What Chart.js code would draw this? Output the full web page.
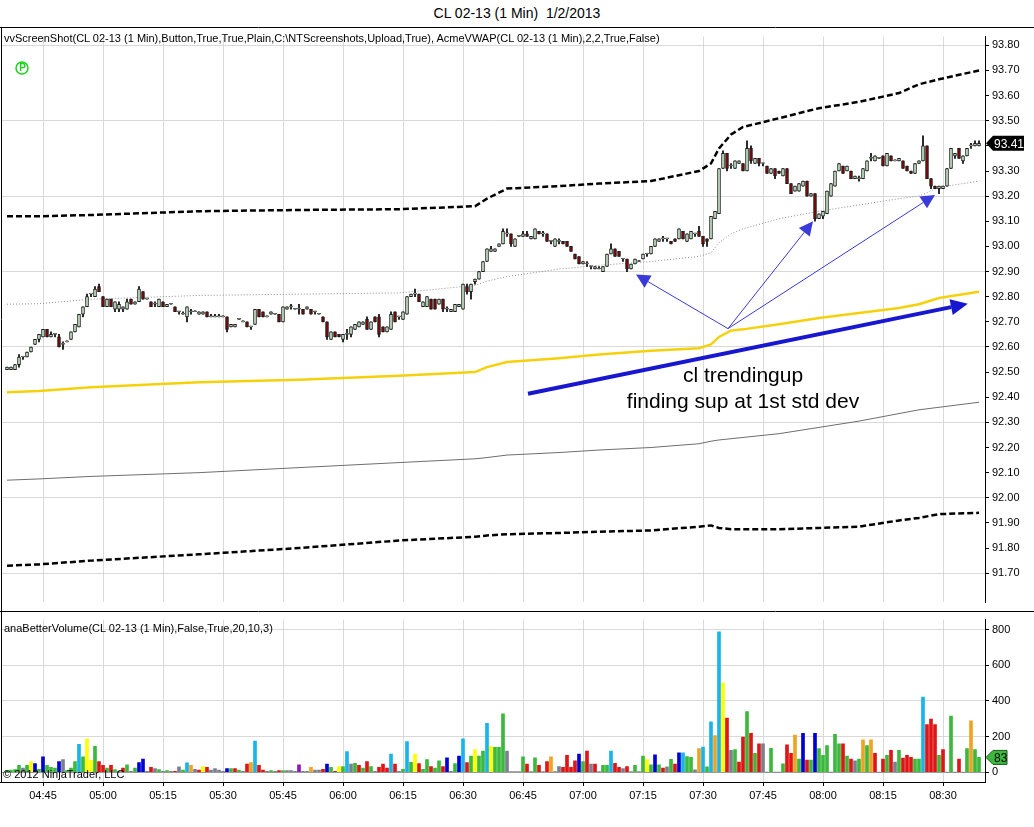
<!DOCTYPE html>
<html>
<head>
<meta charset="utf-8">
<script src="https://cdn.jsdelivr.net/npm/chart.js@4.4.0/dist/chart.umd.min.js"></script>
<style>
  body { margin: 0; background: #fff; width: 1034px; height: 827px; overflow: hidden; position: relative;
         font-family: "Liberation Sans", Arial, sans-serif; }
  canvas { position: absolute; left: 0; }
  #pc { top: 27px; }
  #vc { top: 610px; }
  .lbl { position: absolute; font-size: 11px; color: #000; white-space: pre; z-index: 5; }
  #title { top: 5px; left: 0; width: 1034px; text-align: center; font-size: 14px; }
</style>
</head>
<body>
<div class="lbl" id="title">CL 02-13 (1 Min)  1/2/2013</div>
<canvas id="pc" width="1034" height="585"></canvas>
<canvas id="vc" width="1034" height="217"></canvas>
<div class="lbl" style="left:4px;top:32px">vvScreenShot(CL 02-13 (1 Min),Button,True,True,Plain,C:\NTScreenshots,Upload,True), AcmeVWAP(CL 02-13 (1 Min),2,2,True,False)</div>
<div class="lbl" style="left:4px;top:622px">anaBetterVolume(CL 02-13 (1 Min),False,True,20,10,3)</div>
<div class="lbl" style="left:3px;top:768px">© 2012 NinjaTrader, LLC</div>
<script>
// ---- data (bar index 0 = 04:36, one bar per minute) ----
const firstBar = '04:36';
const timeTicks = ['04:45','05:00','05:15','05:30','05:45','06:00','06:15','06:30','06:45','07:00','07:15','07:30','07:45','08:00','08:15','08:30'];
const priceTicks = [91.7,91.8,91.9,92.0,92.1,92.2,92.3,92.4,92.5,92.6,92.7,92.8,92.9,93.0,93.1,93.2,93.3,93.4,93.5,93.6,93.7,93.8];
const volTicks = [0, 200, 400, 600, 800];

const opens = [
  92.51,92.51,92.51,92.53,92.56,92.56,92.58,92.61,92.63,92.64,
  92.67,92.64,92.65,92.64,92.61,92.62,92.63,92.66,92.68,92.73,
  92.76,92.81,92.80,92.84,92.80,92.76,92.79,92.75,92.75,92.75,
  92.75,92.79,92.77,92.78,92.82,92.79,92.78,92.77,92.76,92.78,
  92.76,92.77,92.76,92.74,92.73,92.72,92.74,92.74,92.73,92.73,
  92.74,92.72,92.72,92.72,92.72,92.72,92.68,92.68,92.71,92.70,
  92.70,92.68,92.69,92.75,92.74,92.72,92.73,92.73,92.73,92.70,
  92.75,92.76,92.75,92.75,92.75,92.75,92.75,92.74,92.73,92.72,
  92.70,92.63,92.66,92.65,92.63,92.65,92.65,92.67,92.68,92.69,
  92.71,92.67,92.72,92.72,92.68,92.66,92.67,92.74,92.72,92.71,
  92.73,92.80,92.81,92.81,92.76,92.76,92.79,92.79,92.77,92.79,
  92.75,92.74,92.74,92.76,92.75,92.84,92.82,92.86,92.87,92.90,
  92.94,92.98,92.98,93.00,93.01,93.05,93.05,93.00,93.04,93.04,
  93.05,93.03,93.03,93.06,93.05,93.05,93.02,93.00,93.02,93.02,
  93.02,93.00,92.97,92.96,92.93,92.93,92.92,92.91,92.91,92.90,
  92.92,92.97,92.99,92.98,92.95,92.95,92.91,92.93,92.94,92.95,
  92.97,92.97,93.00,93.02,93.03,93.03,93.02,93.03,93.03,93.06,
  93.02,93.03,93.05,93.06,93.04,93.03,93.03,93.11,93.13,93.31,
  93.37,93.32,93.31,93.33,93.33,93.30,93.39,93.33,93.35,93.33,
  93.32,93.29,93.31,93.30,93.28,93.31,93.25,93.22,93.22,93.24,
  93.26,93.20,93.21,93.11,93.12,93.13,93.20,93.24,93.30,93.32,
  93.30,93.30,93.27,93.27,93.27,93.30,93.35,93.34,93.35,93.36,
  93.32,93.36,93.34,93.34,93.34,93.32,93.30,93.29,93.33,93.34,
  93.40,93.27,93.24,93.23,93.23,93.24,93.31,93.36,93.39,93.34,
  93.36,93.40,93.40,93.40
];
const closes = [
  92.52,92.52,92.53,92.56,92.56,92.58,92.60,92.63,92.65,92.67,
  92.64,92.65,92.65,92.60,92.61,92.62,92.66,92.69,92.73,92.76,
  92.80,92.81,92.83,92.82,92.76,92.79,92.76,92.78,92.77,92.76,
  92.78,92.77,92.78,92.83,92.79,92.79,92.76,92.77,92.79,92.76,
  92.77,92.77,92.74,92.74,92.73,92.76,92.74,92.74,92.74,92.74,
  92.72,92.72,92.72,92.72,92.72,92.67,92.69,92.69,92.71,92.70,
  92.68,92.68,92.75,92.72,92.72,92.72,92.74,92.73,92.70,92.76,
  92.76,92.76,92.75,92.75,92.73,92.76,92.73,92.74,92.73,92.70,
  92.64,92.66,92.64,92.64,92.65,92.65,92.68,92.69,92.70,92.70,
  92.67,92.70,92.70,92.65,92.66,92.68,92.73,92.70,92.72,92.74,
  92.80,92.81,92.81,92.78,92.78,92.80,92.75,92.75,92.79,92.75,
  92.75,92.75,92.77,92.77,92.85,92.82,92.85,92.87,92.90,92.94,
  92.99,92.99,92.99,93.01,93.06,93.05,93.01,93.03,93.04,93.05,
  93.04,93.04,93.07,93.05,93.05,93.02,93.02,93.03,93.02,93.01,
  93.00,92.98,92.95,92.93,92.94,92.93,92.92,92.92,92.91,92.92,
  92.97,92.99,92.96,92.96,92.95,92.91,92.93,92.95,92.94,92.97,
  92.97,93.00,93.03,93.03,93.03,93.03,93.01,93.02,93.07,93.03,
  93.05,93.06,93.05,93.04,93.01,93.02,93.12,93.14,93.31,93.37,
  93.31,93.32,93.34,93.34,93.30,93.39,93.34,93.35,93.33,93.33,
  93.29,93.31,93.28,93.29,93.31,93.25,93.21,93.24,93.25,93.26,
  93.20,93.21,93.11,93.13,93.14,93.22,93.25,93.30,93.33,93.29,
  93.32,93.27,93.28,93.27,93.31,93.34,93.35,93.36,93.35,93.32,
  93.37,93.34,93.34,93.35,93.31,93.30,93.29,93.33,93.34,93.40,
  93.27,93.24,93.23,93.24,93.24,93.31,93.39,93.37,93.35,93.36,
  93.39,93.40,93.41,93.41
];
const highs = [
  92.52,92.52,92.53,92.57,92.56,92.58,92.60,92.63,92.65,92.67,
  92.67,92.66,92.65,92.65,92.62,92.62,92.66,92.69,92.73,92.76,
  92.81,92.81,92.84,92.85,92.80,92.79,92.79,92.78,92.78,92.76,
  92.79,92.79,92.78,92.84,92.82,92.79,92.78,92.78,92.79,92.78,
  92.77,92.77,92.76,92.74,92.74,92.76,92.75,92.74,92.74,92.74,
  92.74,92.73,92.73,92.73,92.72,92.72,92.69,92.69,92.71,92.70,
  92.70,92.68,92.75,92.75,92.74,92.72,92.74,92.73,92.73,92.76,
  92.76,92.77,92.75,92.77,92.75,92.76,92.75,92.74,92.73,92.72,
  92.70,92.66,92.66,92.65,92.65,92.67,92.68,92.69,92.70,92.70,
  92.72,92.70,92.72,92.73,92.68,92.68,92.74,92.74,92.72,92.74,
  92.80,92.81,92.83,92.81,92.78,92.80,92.79,92.79,92.79,92.79,
  92.76,92.75,92.77,92.77,92.85,92.85,92.85,92.87,92.90,92.94,
  92.99,93.00,92.99,93.01,93.07,93.07,93.05,93.03,93.04,93.06,
  93.06,93.04,93.07,93.06,93.06,93.05,93.02,93.03,93.03,93.02,
  93.02,93.00,92.97,92.96,92.94,92.94,92.92,92.92,92.92,92.92,
  92.97,93.01,92.99,92.98,92.95,92.95,92.93,92.95,92.94,92.97,
  92.97,93.00,93.03,93.03,93.04,93.03,93.02,93.03,93.07,93.06,
  93.05,93.06,93.05,93.08,93.04,93.03,93.12,93.14,93.31,93.38,
  93.37,93.33,93.34,93.34,93.33,93.42,93.40,93.35,93.35,93.33,
  93.32,93.31,93.31,93.30,93.31,93.31,93.25,93.24,93.25,93.26,
  93.26,93.21,93.21,93.13,93.14,93.22,93.25,93.30,93.33,93.32,
  93.32,93.30,93.28,93.28,93.31,93.34,93.37,93.36,93.35,93.36,
  93.37,93.36,93.34,93.35,93.34,93.32,93.30,93.33,93.34,93.44,
  93.40,93.27,93.24,93.24,93.24,93.31,93.39,93.37,93.39,93.36,
  93.39,93.41,93.42,93.42
];
const lows = [
  92.51,92.51,92.51,92.52,92.55,92.56,92.58,92.61,92.62,92.64,
  92.64,92.64,92.64,92.60,92.59,92.62,92.63,92.66,92.68,92.72,
  92.76,92.80,92.80,92.82,92.76,92.76,92.76,92.74,92.74,92.74,
  92.75,92.77,92.77,92.78,92.79,92.79,92.76,92.76,92.76,92.76,
  92.76,92.77,92.74,92.73,92.73,92.70,92.73,92.74,92.73,92.73,
  92.72,92.72,92.72,92.72,92.72,92.66,92.68,92.68,92.71,92.70,
  92.68,92.67,92.69,92.72,92.72,92.72,92.73,92.73,92.70,92.70,
  92.75,92.75,92.75,92.73,92.73,92.75,92.73,92.73,92.73,92.70,
  92.63,92.63,92.64,92.64,92.62,92.63,92.64,92.67,92.68,92.69,
  92.67,92.67,92.70,92.64,92.66,92.66,92.67,92.70,92.71,92.71,
  92.73,92.80,92.80,92.78,92.76,92.76,92.75,92.75,92.77,92.74,
  92.74,92.74,92.74,92.76,92.75,92.81,92.79,92.85,92.87,92.90,
  92.94,92.98,92.98,93.00,93.01,93.04,93.00,93.00,93.04,93.04,
  93.04,93.03,93.03,93.05,93.04,93.02,93.01,93.00,93.01,93.01,
  93.00,92.98,92.95,92.93,92.93,92.92,92.91,92.91,92.91,92.90,
  92.92,92.97,92.96,92.96,92.94,92.90,92.91,92.93,92.94,92.95,
  92.96,92.97,93.00,93.02,93.02,93.02,93.01,93.02,93.03,93.03,
  93.02,93.03,93.04,93.04,93.00,93.00,93.03,93.11,93.13,93.31,
  93.30,93.31,93.31,93.33,93.30,93.30,93.33,93.33,93.32,93.32,
  93.29,93.29,93.27,93.29,93.28,93.25,93.21,93.22,93.22,93.24,
  93.20,93.20,93.10,93.11,93.11,93.13,93.20,93.24,93.30,93.29,
  93.30,93.27,93.27,93.26,93.27,93.30,93.34,93.34,93.35,93.32,
  93.32,93.34,93.34,93.34,93.31,93.30,93.29,93.29,93.33,93.34,
  93.27,93.23,93.23,93.21,93.23,93.24,93.31,93.35,93.35,93.33,
  93.36,93.39,93.40,93.40
];

const volumes = [
  10,12,14,38,23,38,59,48,16,86,
  38,27,23,59,70,9,23,59,157,86,
  188,66,145,59,38,23,38,14,5,23,
  41,5,23,54,73,5,27,20,14,5,
  9,5,5,30,12,52,38,16,11,32,
  27,12,20,11,4,20,20,20,11,4,
  45,54,175,38,11,4,9,5,9,9,
  9,9,5,41,4,5,27,11,11,16,
  45,27,5,32,32,116,45,50,38,23,
  59,32,4,27,45,23,102,45,4,16,
  172,55,102,48,16,70,32,23,64,32,
  80,4,48,91,188,54,91,127,91,118,
  274,145,140,140,328,118,3,3,3,86,
  45,3,80,38,3,59,86,3,32,27,
  95,27,64,102,59,118,45,45,3,38,
  38,118,50,27,20,32,3,38,3,91,
  70,41,98,41,23,30,72,45,109,109,
  88,84,13,132,141,30,283,206,788,501,
  304,122,127,57,197,340,218,106,159,159,
  0,134,0,0,47,154,106,208,73,218,
  68,68,218,132,95,149,0,213,159,159,
  90,73,63,73,181,149,181,106,0,73,
  95,122,57,122,79,95,84,73,73,422,
  267,299,267,95,127,0,315,0,73,0,
  132,288,127,83
];
// volume bar kind: g=green r=red c=cyan y=yellow b=blue s=slate o=orange p=purple
const volKinds = (
  'gggggsgybgb'.slice(1) +
  'rgggbsgggcg'.slice(1) +
  'yygrrgrgsr' + 'gsgbbsrsgs' + 'gsrsgcosry' + 'rssssbgrgs' +
  'rocrrsgsrg' + 'ssspssossr' + 'bgrygcsgrg' + 'rgsrrrcrsg' +
  'cgyrggrggr' + 'bsgbcrgygg' + 'cygggssssg' + 'rsgrsrossr' +
  'rrrbgrsrsg' + 'gcrrsrsgsg' + 'ygbgrsgrbc' + 'ggsocgcocy' +
  'rsgrrgrgrs' + 'sgssgrrogb' + 'rgbgggsggr' + 'grsgogorsr' +
  'grsgrrrggc' + 'rrrgrsgsrs' + 'gogg').split('');

// AcmeVWAP line and bands, sampled at these bar indexes
const bandIdx    = [0, 8, 21, 48, 73, 98, 117, 120, 125, 138, 148, 161, 173, 176, 178, 181, 184, 193, 203, 213, 223, 228, 233, 243];
const bandUpper  = [93.12,93.12,93.125,93.14,93.145,93.148,93.16,93.19,93.23,93.24,93.25,93.26,93.30,93.33,93.39,93.445,93.475,93.51,93.55,93.575,93.61,93.645,93.665,93.70];
const vwapLine   = [92.77,92.772,92.79,92.805,92.81,92.815,92.845,92.862,92.88,92.91,92.925,92.94,92.96,92.975,93.015,93.05,93.07,93.11,93.14,93.165,93.19,93.20,93.235,93.26];
const bandYellow = [92.42,92.425,92.44,92.46,92.47,92.485,92.50,92.52,92.54,92.555,92.57,92.585,92.595,92.61,92.64,92.665,92.67,92.69,92.715,92.735,92.755,92.77,92.795,92.82];
const bandGray   = [92.07,92.075,92.085,92.10,92.12,92.14,92.155,92.16,92.17,92.18,92.19,92.20,92.215,92.225,92.23,92.235,92.24,92.255,92.28,92.305,92.335,92.35,92.36,92.38];
const bandLower  = [91.73,91.735,91.75,91.775,91.80,91.83,91.845,91.85,91.855,91.86,91.865,91.87,91.885,91.89,91.88,91.875,91.875,91.875,91.88,91.885,91.91,91.92,91.935,91.94];

// hand-drawn annotations, in (bar index, price)
const thickArrow = [[130.25, 92.414], [240.2, 92.772]];
const thinOrigin = [180.25, 92.673];
const thinTips = [[157.25, 92.888], [201.5, 93.10], [232, 93.205]];
const noteLines = ['cl trendingup', 'finding sup at 1st std dev'];
const noteAt = [[184, 92.483], [184, 92.379]];

// ---- helpers ----
const FONT = '"Liberation Sans", Arial, sans-serif';
const toMin = s => { const [h, m] = s.split(':'); return +h * 60 + +m; };
const tickIdx = timeTicks.map(t => toMin(t) - toMin(firstBar));
const xMin = -1.25, xMax = 244.5;
const GRID = '#d9d9d9';
const kindColor = { g: '#3cb93c', r: '#e01515', c: '#19b5ea', y: '#ffff00', b: '#0000d2', s: '#7a8090', o: '#f0a323', p: '#8a16c0' };

const bodies = opens.map((o, k) => ({ x: k, y: [o, closes[k]] }));
const wicks = highs.map((h, k) => ({ x: k, y: [lows[k], h] }));
const bandPts = arr => arr.map((v, k) => ({ x: bandIdx[k], y: v }));

function arrow(ctx, x0, y0, x1, y1, lw, headLen, headW, color) {
  const a = Math.atan2(y1 - y0, x1 - x0);
  const bx = x1 - Math.cos(a) * headLen, by = y1 - Math.sin(a) * headLen;
  ctx.strokeStyle = color; ctx.fillStyle = color; ctx.lineWidth = lw;
  ctx.beginPath(); ctx.moveTo(x0, y0); ctx.lineTo(bx, by); ctx.stroke();
  ctx.beginPath();
  ctx.moveTo(x1, y1);
  ctx.lineTo(bx + Math.sin(a) * headW, by - Math.cos(a) * headW);
  ctx.lineTo(bx - Math.sin(a) * headW, by + Math.cos(a) * headW);
  ctx.closePath(); ctx.fill();
}

function tag(ctx, x0, yc, w, h, fill, stroke, text, color) {
  ctx.beginPath();
  ctx.moveTo(x0, yc); ctx.lineTo(x0 + 7, yc - h / 2); ctx.lineTo(x0 + w, yc - h / 2);
  ctx.lineTo(x0 + w, yc + h / 2); ctx.lineTo(x0 + 7, yc + h / 2); ctx.closePath();
  ctx.fillStyle = fill; ctx.fill();
  if (stroke) { ctx.strokeStyle = stroke; ctx.lineWidth = 1; ctx.stroke(); }
  ctx.fillStyle = color; ctx.font = '12px ' + FONT; ctx.textAlign = 'left'; ctx.textBaseline = 'middle';
  ctx.fillText(text, x0 + 8, yc + 1);
}

const priceDecor = {
  id: 'priceDecor',
  afterDatasetsDraw(chart) {
    const { ctx, scales: { x, y } } = chart;
    const px = p => [x.getPixelForValue(p[0]), y.getPixelForValue(p[1])];
    ctx.save();
    const o = px(thinOrigin);
    thinTips.forEach(t => { const e = px(t); arrow(ctx, o[0], o[1], e[0], e[1], 1, 14, 7, '#3a3ad8'); });
    const a0 = px(thickArrow[0]), a1 = px(thickArrow[1]);
    arrow(ctx, a0[0], a0[1], a1[0], a1[1], 4, 17, 8, '#1717d0');
    ctx.fillStyle = '#000'; ctx.font = '21px ' + FONT; ctx.textAlign = 'center'; ctx.textBaseline = 'middle';
    noteLines.forEach((s, k) => { const p = px(noteAt[k]); ctx.fillText(s, p[0], p[1]); });
    ctx.restore();
  },
  afterDraw(chart) {
    const { ctx, scales: { y } } = chart;
    ctx.save();
    ctx.strokeStyle = '#000'; ctx.lineWidth = 1;
    ctx.beginPath();
    ctx.moveTo(0, 0.5); ctx.lineTo(chart.width, 0.5);
    ctx.moveTo(1.5, 0); ctx.lineTo(1.5, chart.height);
    ctx.stroke();
    // P marker
    ctx.strokeStyle = '#19d219'; ctx.lineWidth = 1.5;
    ctx.beginPath(); ctx.arc(22, 41, 6, 0, Math.PI * 2); ctx.stroke();
    ctx.fillStyle = '#19d219'; ctx.font = 'bold 10px ' + FONT; ctx.textAlign = 'center'; ctx.textBaseline = 'middle';
    ctx.fillText('P', 22.5, 41.5);
    const last = closes[closes.length - 1];
    tag(ctx, chart.chartArea.right + 1, y.getPixelForValue(last), 38, 15, '#000', null, last.toFixed(2), '#fff');
    ctx.restore();
  }
};

const volDecor = {
  id: 'volDecor',
  afterDraw(chart) {
    const { ctx, scales: { y } } = chart;
    ctx.save();
    ctx.strokeStyle = '#000'; ctx.lineWidth = 1;
    ctx.beginPath();
    ctx.moveTo(0, 1.5); ctx.lineTo(chart.width, 1.5);
    ctx.moveTo(1.5, 0); ctx.lineTo(1.5, chart.chartArea.bottom);
    ctx.moveTo(0, chart.chartArea.bottom + 0.5); ctx.lineTo(chart.chartArea.right, chart.chartArea.bottom + 0.5);
    ctx.stroke();
    const last = volumes[volumes.length - 1];
    tag(ctx, chart.chartArea.right + 1, y.getPixelForValue(last), 21, 14, '#3cb93c', '#1a5a1a', String(last), '#000');
    ctx.restore();
  }
};

const axisFont = { family: FONT, size: 11 };

new Chart(document.getElementById('pc'), {
  type: 'bar',
  data: {
    datasets: [
      { data: wicks, backgroundColor: '#000', barThickness: 1, minBarLength: 1, grouped: false, order: 3 },
      { data: bodies, grouped: false, order: 2, barThickness: 3, minBarLength: 1, borderWidth: 1, borderSkipped: false,
        borderColor: '#1a1a1a',
        backgroundColor: ctx => { const r = ctx.raw; return r && r.y[1] >= r.y[0] ? '#cdeccd' : '#7d0c0c'; } },
      { type: 'line', data: bandPts(bandUpper), borderColor: '#000', borderWidth: 2.5, borderDash: [6, 3], pointRadius: 0, order: 5 },
      { type: 'line', data: bandPts(vwapLine), borderColor: '#8c8c8c', borderWidth: 1, borderDash: [1, 2], pointRadius: 0, order: 5 },
      { type: 'line', data: bandPts(bandYellow), borderColor: '#f5d10c', borderWidth: 2.5, pointRadius: 0, order: 5 },
      { type: 'line', data: bandPts(bandGray), borderColor: '#6e6e6e', borderWidth: 1, pointRadius: 0, order: 5 },
      { type: 'line', data: bandPts(bandLower), borderColor: '#000', borderWidth: 2.5, borderDash: [6, 3], pointRadius: 0, order: 5 }
    ]
  },
  options: {
    responsive: false, animation: false, devicePixelRatio: 1,
    layout: { padding: { left: 2, top: 1, right: 0, bottom: 1 }, autoPadding: false },
    plugins: { legend: { display: false }, tooltip: { enabled: false } },
    scales: {
      x: {
        type: 'linear', min: xMin, max: xMax, offset: false,
        afterBuildTicks: s => { s.ticks = tickIdx.map(v => ({ value: v })); },
        afterFit: s => { s.height = 0; },
        ticks: { display: false },
        grid: { color: GRID, drawTicks: false, offset: false },
        border: { display: false }
      },
      y: {
        position: 'right', min: 91.5838, max: 93.8347,
        afterBuildTicks: s => { s.ticks = priceTicks.map(v => ({ value: v })); },
        afterFit: s => { s.width = 49; },
        ticks: { color: '#000', font: axisFont, padding: 3, callback: v => v.toFixed(2) },
        grid: {
          color: c => (c.tick && Math.round((c.tick.value - 91.7) * 10) % 3 === 0) ? GRID : 'rgba(0,0,0,0)',
          tickColor: '#000', tickLength: 4
        },
        border: { display: true, color: '#000' }
      }
    }
  },
  plugins: [priceDecor]
});

new Chart(document.getElementById('vc'), {
  type: 'bar',
  data: {
    datasets: [{
      data: volumes.map((v, k) => ({ x: k, y: v })),
      backgroundColor: volKinds.map(k => kindColor[k]),
      barThickness: 3
    }]
  },
  options: {
    responsive: false, animation: false, devicePixelRatio: 1,
    layout: { padding: { left: 2, top: 2, right: 0, bottom: 0 }, autoPadding: false },
    plugins: { legend: { display: false }, tooltip: { enabled: false } },
    scales: {
      x: {
        type: 'linear', min: xMin, max: xMax, offset: false,
        afterBuildTicks: s => { s.ticks = tickIdx.map(v => ({ value: v })); },
        afterFit: s => { s.height = 45; },
        ticks: { color: '#000', font: axisFont, padding: 3, maxRotation: 0, autoSkip: false,
                 callback: (v, k) => timeTicks[k] },
        grid: { color: GRID, tickColor: '#000', tickLength: 4, offset: false },
        border: { display: true, color: '#000' }
      },
      y: {
        position: 'right', min: -55.3, max: 857.4,
        afterBuildTicks: s => { s.ticks = volTicks.map(v => ({ value: v })); },
        afterFit: s => { s.width = 49; },
        ticks: { color: '#000', font: axisFont, padding: 3 },
        grid: { color: c => (c.tick && c.tick.value === 0) ? '#9a9a9a' : GRID, tickColor: '#000', tickLength: 4 },
        border: { display: true, color: '#000' }
      }
    }
  },
  plugins: [volDecor]
});
</script>
</body>
</html>
